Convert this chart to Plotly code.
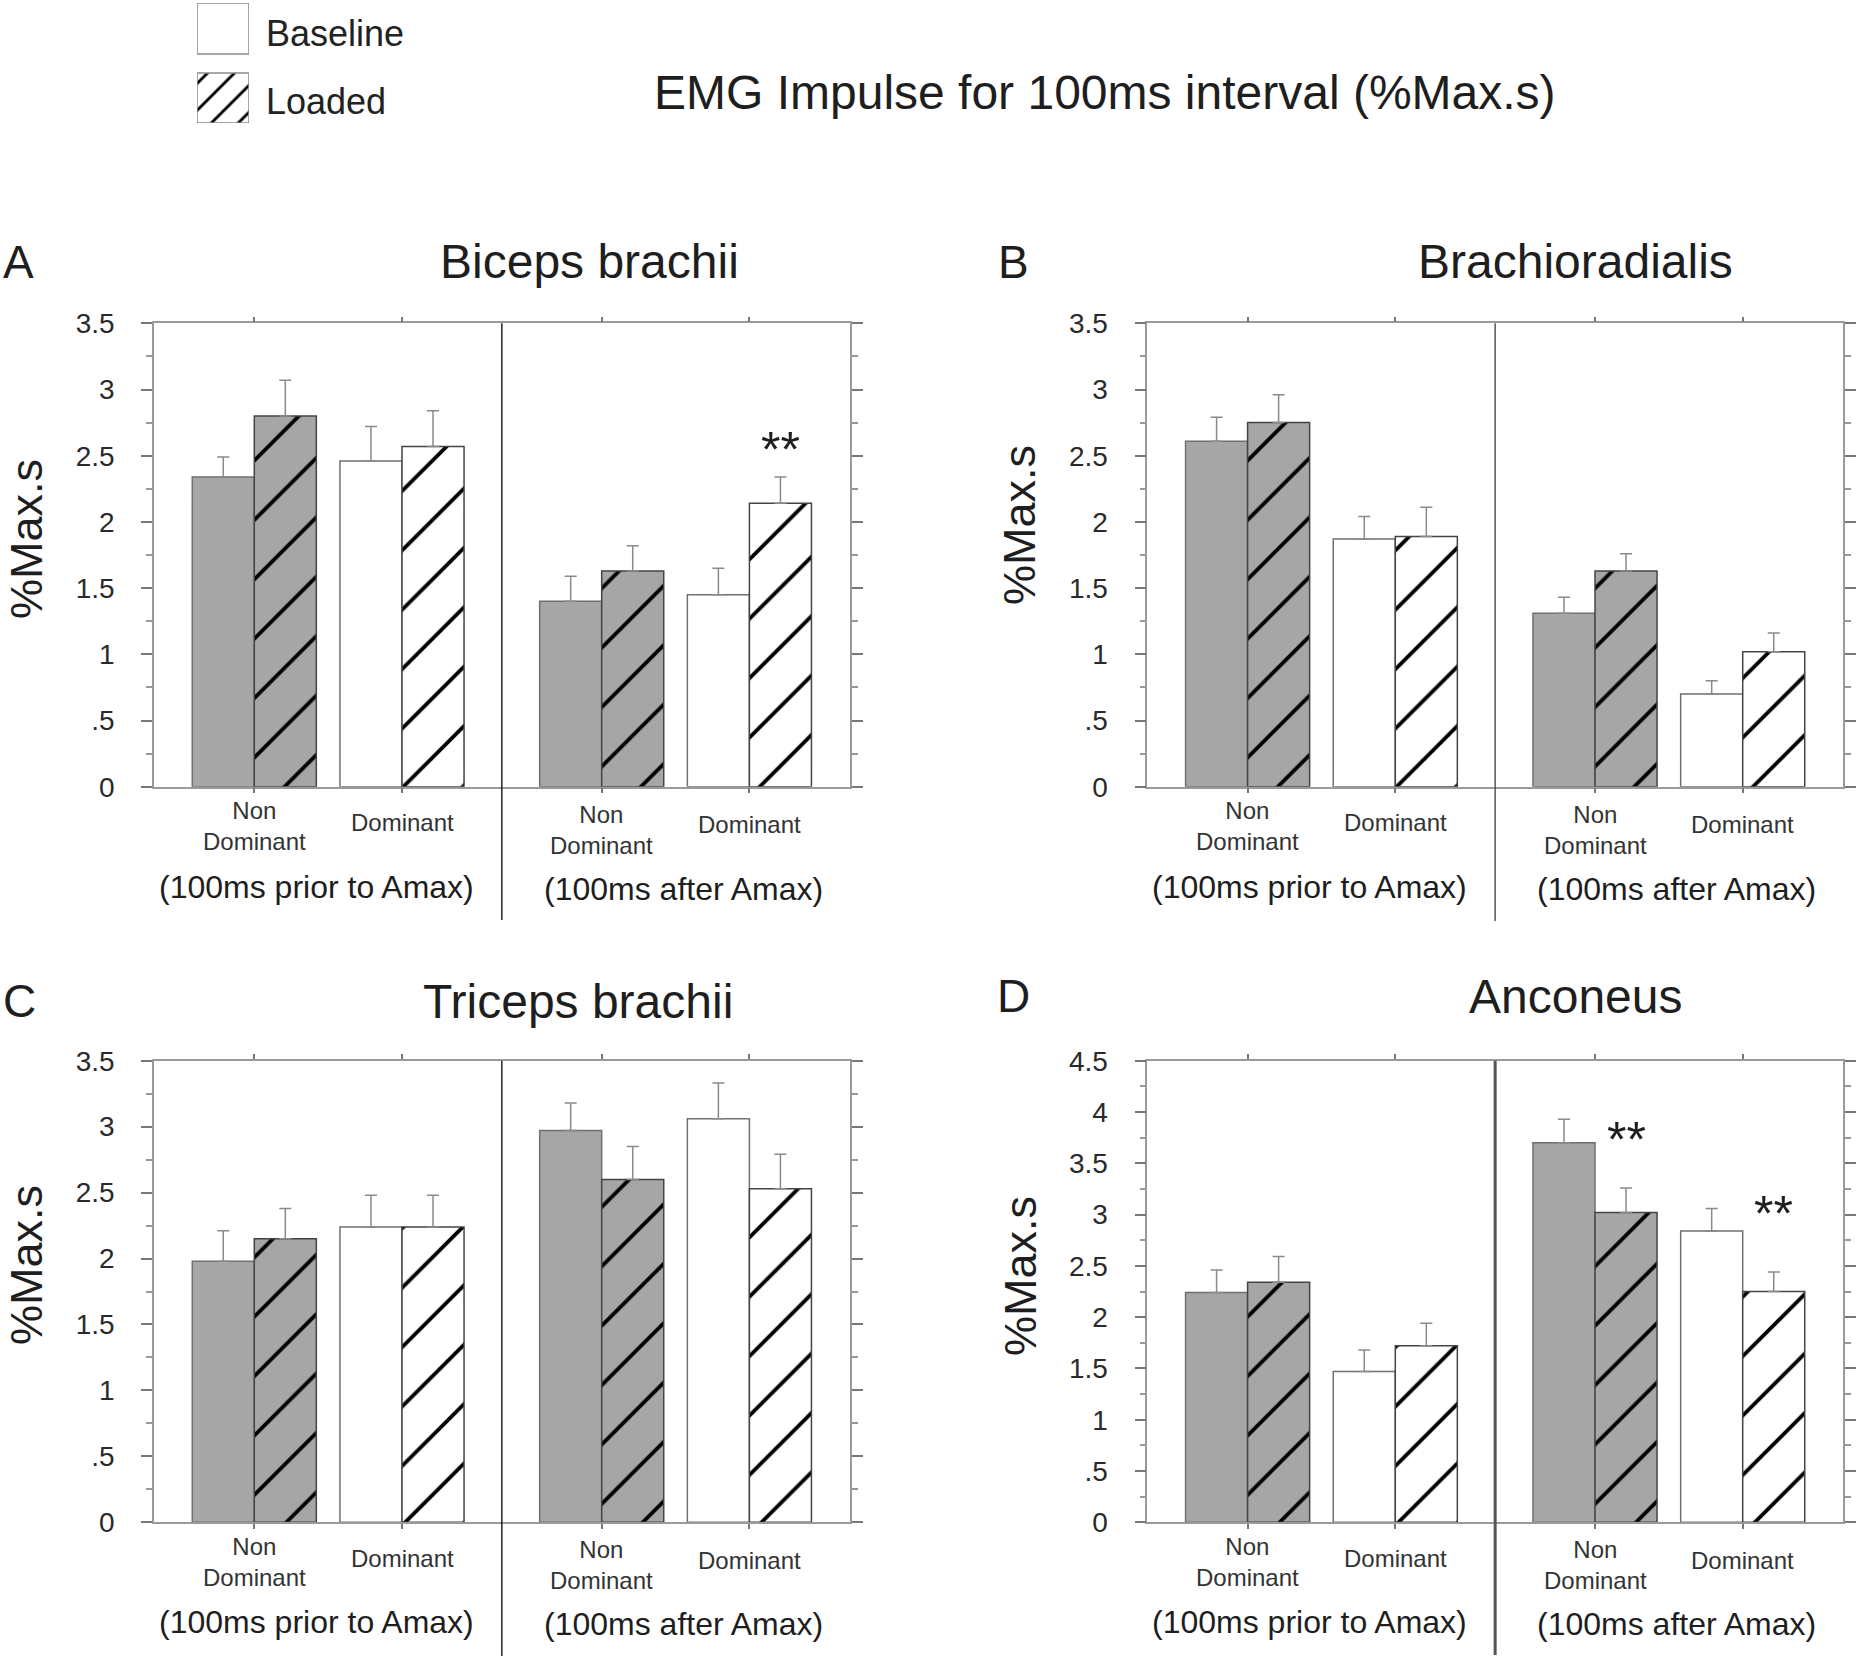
import plotly.graph_objects as go

W, H = 1856, 1663

# ---------------- data ----------------
groups = ["Non<br>Dominant", "Dominant", "Non<br>Dominant", "Dominant"]
windows = ["(100ms prior to Amax)", "(100ms after Amax)"]
series = ["Baseline", "Loaded"]

muscles = ["Biceps brachii", "Brachioradialis", "Triceps brachii", "Anconeus"]
letters = ["A", "B", "C", "D"]

biceps_base = [2.34, 2.46, 1.40, 1.45]
biceps_base_err = [0.15, 0.26, 0.19, 0.20]
biceps_load = [2.80, 2.57, 1.63, 2.14]
biceps_load_err = [0.27, 0.27, 0.19, 0.20]

brachio_base = [2.61, 1.87, 1.31, 0.70]
brachio_base_err = [0.18, 0.17, 0.12, 0.10]
brachio_load = [2.75, 1.89, 1.63, 1.02]
brachio_load_err = [0.21, 0.22, 0.13, 0.14]

triceps_base = [1.98, 2.24, 2.97, 3.06]
triceps_base_err = [0.23, 0.24, 0.21, 0.27]
triceps_load = [2.15, 2.24, 2.60, 2.53]
triceps_load_err = [0.23, 0.24, 0.25, 0.26]

anconeus_base = [2.24, 1.47, 3.70, 2.84]
anconeus_base_err = [0.22, 0.21, 0.23, 0.22]
anconeus_load = [2.34, 1.72, 3.02, 2.25]
anconeus_load_err = [0.25, 0.22, 0.24, 0.19]

# significance markers (panel index, group index, label level)
sig_panel = [0, 3, 3]
sig_group = [3, 2, 3]
sig_level = [2.62, 3.82, 3.10]

y_max = [3.5, 3.5, 3.5, 4.5]
ytick_text_35 = ["0", ".5", "1", "1.5", "2", "2.5", "3", "3.5"]
ytick_text_45 = ["0", ".5", "1", "1.5", "2", "2.5", "3", "3.5", "4", "4.5"]

# ---------------- layout constants ----------------
x_pos = [0, 1, 2.352, 3.352]       # category slots (gap between windows)
BW = 0.42                          # bar width in x units
X_RANGE = [-0.679, 4.033]
PLOT_W = 696
GRAY = "#a6a6a6"
WHITE = "#ffffff"
FONT = "Liberation Sans, Arial, sans-serif"
TXT = "#1e1e1e"

panels = [
    dict(left=154, top=323.3, zero=786.7, letter=(18.6, 262), title=(589, 262),
         ytitle=(26, 539), div_bottom=920, div_col="#222", div_w=1.5),
    dict(left=1147.3, top=323.3, zero=786.7, letter=(1013.7, 262), title=(1575.6, 262),
         ytitle=(1019, 525), div_bottom=921, div_col="#555", div_w=1.5),
    dict(left=154, top=1060.7, zero=1522.3, letter=(19.5, 1001), title=(577.6, 1001),
         ytitle=(26, 1265), div_bottom=1656, div_col="#222", div_w=1.5),
    dict(left=1147.3, top=1060.7, zero=1522.3, letter=(1013.7, 996), title=(1575.6, 996),
         ytitle=(1020, 1276), div_bottom=1655, div_col="#555", div_w=3),
]

base_vals = [biceps_base, brachio_base, triceps_base, anconeus_base]
base_errs = [biceps_base_err, brachio_base_err, triceps_base_err, anconeus_base_err]
load_vals = [biceps_load, brachio_load, triceps_load, anconeus_load]
load_errs = [biceps_load_err, brachio_load_err, triceps_load_err, anconeus_load_err]

ND_IDX = [0, 2]   # non-dominant slots (grey fill)
D_IDX = [1, 3]    # dominant slots (white fill)


def px(x):
    return x / W


def py(y):
    return 1 - y / H


def pick(arr, idx):
    return [arr[k] for k in idx]


fig = go.Figure()
annotations = []
shapes = []

for i, p in enumerate(panels):
    xa = "x" if i == 0 else f"x{i+1}"
    ya = "y" if i == 0 else f"y{i+1}"
    err_style = dict(type="data", symmetric=False, color="#8a8a8a", thickness=1.5, width=6)
    for idx, fill in ((ND_IDX, GRAY), (D_IDX, WHITE)):
        fig.add_trace(go.Bar(
            x=pick(x_pos, idx), y=pick(base_vals[i], idx), width=[BW] * 2, offset=-BW,
            name=series[0],
            marker=dict(color=fill, line=dict(color="#707070", width=1.5)),
            error_y=dict(array=pick(base_errs[i], idx), arrayminus=[0, 0], **err_style),
            xaxis=xa, yaxis=ya, showlegend=False,
        ))
        fig.add_trace(go.Bar(
            x=pick(x_pos, idx), y=pick(load_vals[i], idx), width=[BW] * 2, offset=0,
            name=series[1],
            marker=dict(color=fill, line=dict(color="#444444", width=1.5),
                        pattern=dict(shape="/", fgcolor="#000000", bgcolor=fill,
                                     size=42, solidity=0.09, fgopacity=1)),
            error_y=dict(array=pick(load_errs[i], idx), arrayminus=[0, 0], **err_style),
            xaxis=xa, yaxis=ya, showlegend=False,
        ))

    xdom = [px(p["left"]), px(p["left"] + PLOT_W)]
    ydom = [py(p["zero"]), py(p["top"])]
    ymax = y_max[i]
    ticks = [k * 0.5 for k in range(int(ymax / 0.5) + 1)]
    ttext = ytick_text_35 if ymax == 3.5 else ytick_text_45

    axis_common = dict(showgrid=False, zeroline=False, showline=True, linecolor="#9a9a9a",
                       linewidth=1.5, mirror="ticks", ticks="outside", tickcolor="#777",
                       automargin=False, fixedrange=True)
    fig.layout[f"xaxis{'' if i == 0 else i+1}"] = dict(
        domain=xdom, range=X_RANGE, anchor=ya, tickvals=x_pos, ticklen=5, tickwidth=1.5,
        showticklabels=False, **axis_common)
    fig.layout[f"yaxis{'' if i == 0 else i+1}"] = dict(
        domain=ydom, range=[0, ymax], anchor=xa, tickvals=ticks, ticktext=ttext,
        ticklen=11, tickwidth=1.5, ticklabelstandoff=21,
        tickfont=dict(family=FONT, size=28, color="#2a2a2a"),
        minor=dict(dtick=0.25, tick0=0, ticklen=6, tickwidth=1.5, tickcolor="#999", ticks="outside"),
        **axis_common)

    # divider between the two time windows
    div_x = (x_pos[1] + x_pos[2]) / 2
    shapes.append(dict(type="line", xref=xa, yref="paper", x0=div_x, x1=div_x,
                       y0=py(p["top"]), y1=py(p["div_bottom"]),
                       line=dict(color=p["div_col"], width=p["div_w"])))

    # category labels under the bars
    for g, label in enumerate(groups):
        two_line = "<br>" in label
        after = g >= 2
        shift = (43 if after else 39.5) if two_line else (38 if after else 36)
        annotations.append(dict(x=x_pos[g], y=0, xref=xa, yref=ya, text=label, showarrow=False,
                                yanchor="middle", xanchor="center", yshift=-shift,
                                font=dict(family=FONT, size=24, color="#333")))
    # window labels
    for w, wtxt in enumerate(windows):
        cx = p["left"] + (162 if w == 0 else 529)
        annotations.append(dict(x=px(cx), y=py(p["zero"] + (100 if w == 0 else 102)),
                                xref="paper", yref="paper", text=wtxt, showarrow=False,
                                xanchor="center", yanchor="middle",
                                font=dict(family=FONT, size=32, color=TXT)))
    # panel letter and title
    annotations.append(dict(x=px(p["letter"][0]), y=py(p["letter"][1]), xref="paper", yref="paper",
                            text=letters[i], showarrow=False, xanchor="center", yanchor="middle",
                            font=dict(family=FONT, size=46, color=TXT)))
    annotations.append(dict(x=px(p["title"][0]), y=py(p["title"][1]), xref="paper", yref="paper",
                            text=muscles[i], showarrow=False, xanchor="center", yanchor="middle",
                            font=dict(family=FONT, size=48, color=TXT)))
    annotations.append(dict(x=px(p["ytitle"][0]), y=py(p["ytitle"][1]), xref="paper", yref="paper",
                            text="%Max.s", showarrow=False, xanchor="center", yanchor="middle",
                            textangle=-90, font=dict(family=FONT, size=45, color=TXT)))

# significance stars
for sp, sg, sl in zip(sig_panel, sig_group, sig_level):
    xa = "x" if sp == 0 else f"x{sp+1}"
    ya = "y" if sp == 0 else f"y{sp+1}"
    annotations.append(dict(x=x_pos[sg] + BW / 2, y=sl, xref=xa, yref=ya, text="**",
                            showarrow=False, xanchor="center", yanchor="middle", yshift=-10,
                            font=dict(family=FONT, size=50, color=TXT)))

# ---------------- legend (patterned boxes drawn as bars on a hidden axis) ----------------
fig.add_trace(go.Bar(x=[0], y=[0.425], base=[0.575], width=[1], offset=-0.5, name=series[0],
                     marker=dict(color=WHITE, line=dict(color="#8a8a8a", width=1.5)),
                     xaxis="x5", yaxis="y5", showlegend=False))
fig.add_trace(go.Bar(x=[0], y=[0.4167], base=[0], width=[1], offset=-0.5, name=series[1],
                     marker=dict(color=WHITE, line=dict(color="#8a8a8a", width=1.5),
                                 pattern=dict(shape="/", fgcolor="#000", bgcolor=WHITE,
                                              size=19, solidity=0.15, fgopacity=1)),
                     xaxis="x5", yaxis="y5", showlegend=False))
fig.layout["xaxis5"] = dict(domain=[px(197), px(249)], range=[-0.5, 0.5], anchor="y5",
                            visible=False, fixedrange=True, automargin=False)
fig.layout["yaxis5"] = dict(domain=[py(123), py(3)], range=[0, 1], anchor="x5",
                            visible=False, fixedrange=True, automargin=False)
annotations.append(dict(x=px(264), y=py(33), xref="paper", yref="paper", text=series[0],
                        showarrow=False, xanchor="left", yanchor="middle",
                        font=dict(family=FONT, size=36, color="#222")))
annotations.append(dict(x=px(264), y=py(101), xref="paper", yref="paper", text=series[1],
                        showarrow=False, xanchor="left", yanchor="middle",
                        font=dict(family=FONT, size=36, color="#222")))
annotations.append(dict(x=px(1105), y=py(92), xref="paper", yref="paper",
                        text="EMG Impulse for 100ms interval (%Max.s)",
                        showarrow=False, xanchor="center", yanchor="middle",
                        font=dict(family=FONT, size=48, color=TXT)))

fig.update_layout(width=W, height=H,
                  margin=dict(l=0, r=0, t=0, b=0, pad=0, autoexpand=False),
                  paper_bgcolor="white", plot_bgcolor="white", barmode="overlay",
                  annotations=annotations, shapes=shapes, showlegend=False)

# remove the browser's default 8px page margin so the figure sits at the page origin
fig.write_html("out.html", config={"displayModeBar": False},
               post_script="document.body.style.margin='0px';")
